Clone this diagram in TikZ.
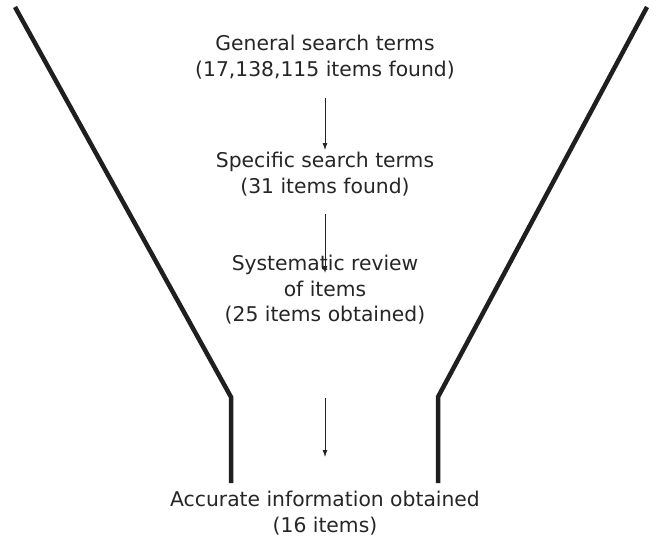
\documentclass[tikz,border=0pt]{standalone}
\usepackage{fontspec}
\setmainfont{DejaVu Sans}
\usetikzlibrary{arrows.meta}
\begin{document}
\begin{tikzpicture}[x=1pt,y=-1pt,
  wall/.style={line width=4.5pt,color=black!88,line join=miter},
  flow/.style={-{Latex[length=7pt,width=5pt]},line width=0.8pt,color=black!85},
  lbl/.style={align=center,font=\fontsize{20.3}{25.5}\selectfont,text=black!85,inner sep=0pt}]
\useasboundingbox (0,0) rectangle (659,539);
\fill[white] (0,0) rectangle (659,539);
\coordinate (lt) at (15,7);
\coordinate (lb) at (231,397);
\coordinate (ld) at (231,483);
\coordinate (rt) at (647,7);
\coordinate (rb) at (438,397);
\coordinate (rd) at (438,483);
\draw[wall] (lt) -- (lb) -- (ld);
\draw[wall] (rt) -- (rb) -- (rd);
\node[lbl] (n1) at (325,57) {General search terms\\(17,138,115 items found)};
\node[lbl] (n2) at (325,174) {Specific search terms\\(31 items found)};
\node[lbl] (n3) at (325,290) {Systematic review\\of items\\(25 items obtained)};
\node[lbl] (n4) at (325,513) {Accurate information obtained\\(16 items)};
\coordinate (a1s) at (325,98);
\coordinate (a1e) at (325,150);
\coordinate (a2s) at (325,214);
\coordinate (a2e) at (325,273);
\coordinate (a3s) at (325,398);
\coordinate (a3e) at (325,457);
\draw[flow] (a1s) -- (a1e);
\draw[flow] (a2s) -- (a2e);
\draw[flow] (a3s) -- (a3e);
\end{tikzpicture}
\end{document}
